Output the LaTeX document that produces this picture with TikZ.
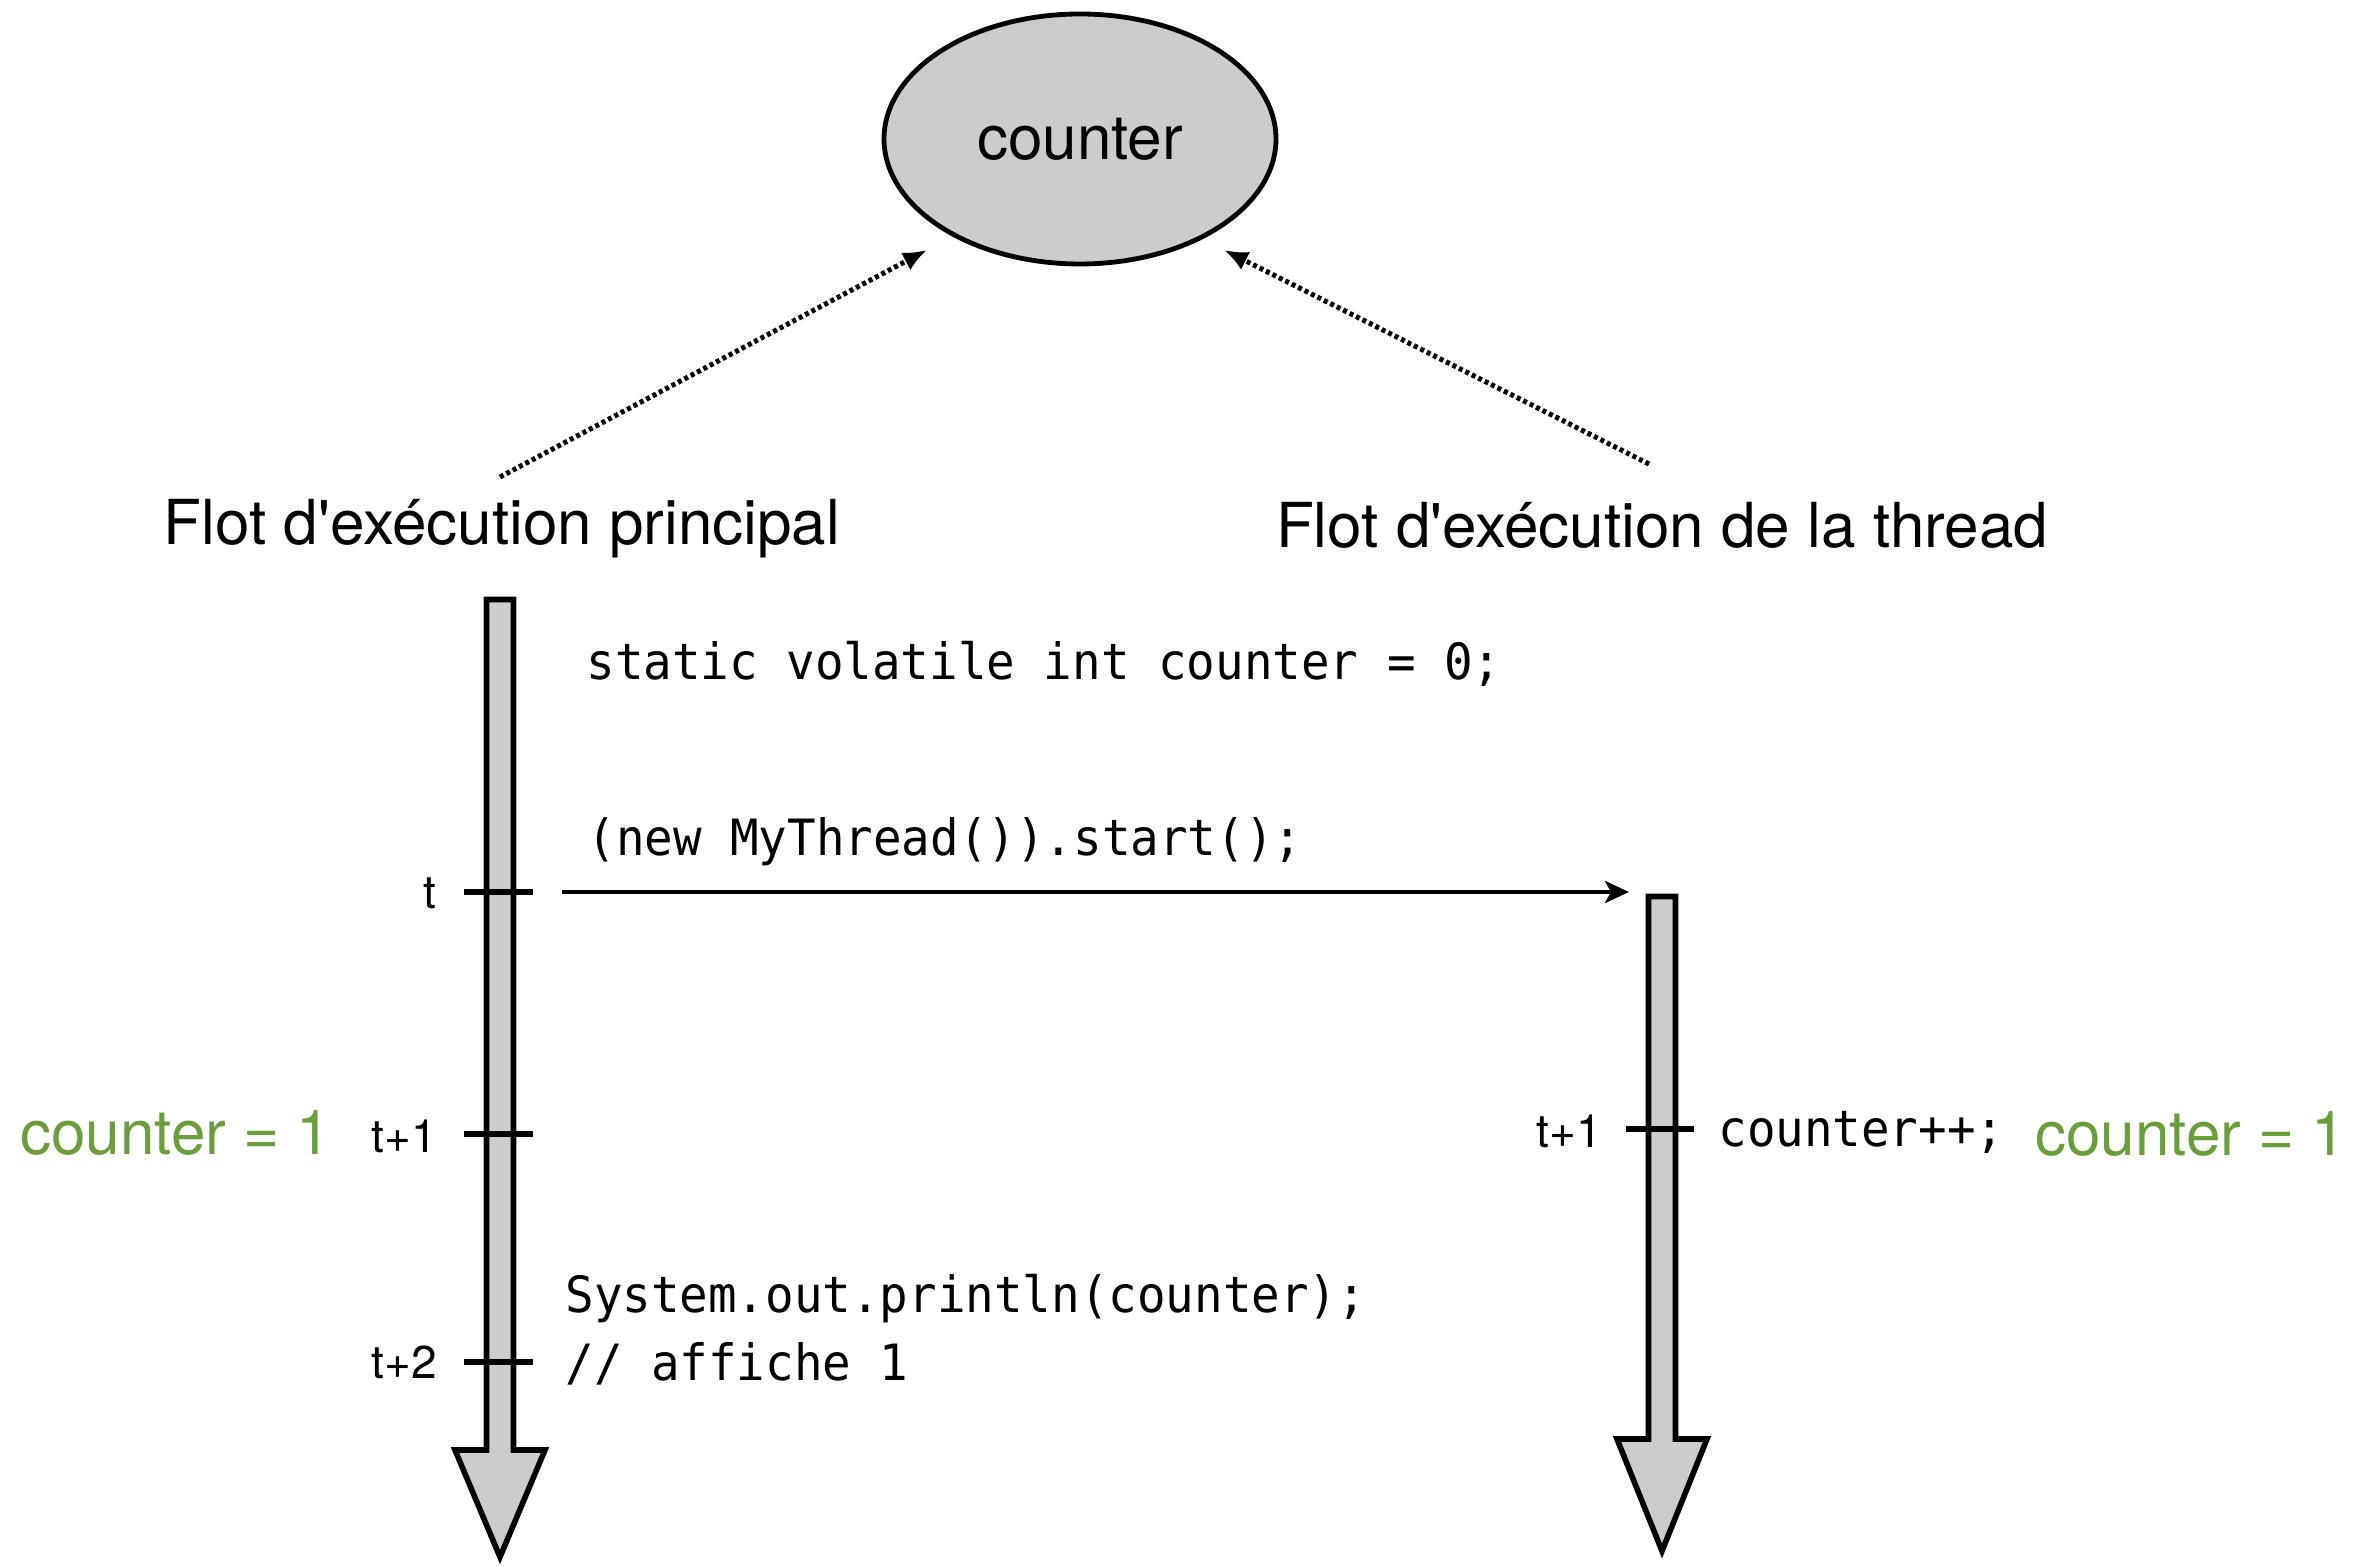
\documentclass[tikz,border=0pt]{standalone}
\usepackage{fontspec}
\usetikzlibrary{arrows.meta,shapes.geometric}
\newfontfamily\hv{TeX Gyre Heros}[Ligatures=TeXOff]
\newfontfamily\codefont{DejaVu Sans Mono}[FakeStretch=0.95]
\definecolor{flowgray}{HTML}{CCCCCC}
\definecolor{valgreen}{HTML}{6A9E3A}

\begin{document}
\begin{tikzpicture}[x=0.5pt,y=-0.5pt,
  lbl/.style={inner sep=0pt, anchor=base, font=\hv\fontsize{31}{36}\selectfont},
  tlbl/.style={inner sep=0pt, anchor=base east, font=\hv\fontsize{23}{28}\selectfont},
  code/.style={inner sep=0pt, anchor=base west, font=\codefont\fontsize{25}{29}\selectfont},
  val/.style={inner sep=0pt, anchor=base west, text=valgreen, font=\hv\fontsize{31}{36}\selectfont},
  flow/.style={draw=black, fill=flowgray, line width=2.8pt, line join=miter},
  tick/.style={line width=2.7pt},
  access/.style={line width=2.5pt, dash pattern=on 2pt off 1.6pt, -{Latex[length=12pt,width=10pt]}},
  call/.style={line width=2.4pt, -{Stealth[length=12pt,width=11pt,inset=3pt]}}
]
\useasboundingbox (0,0) rectangle (2376,1566);

% shared variable
\node[ellipse, draw, line width=2.4pt, fill=flowgray, minimum width=196pt,
      minimum height=125pt, inner sep=0pt, font=\hv\fontsize{31}{36}\selectfont]
      (counter) at (1080,139) {counter};

% flow titles
\node[lbl] (mainlbl) at (502,545) {Flot d'exécution principal};
\node[lbl] (threadlbl) at (1662,548) {Flot d'exécution de la thread};

% both flows access the variable
\coordinate (mainsrc) at (500,477);
\coordinate (mainhit) at (927,250);
\coordinate (threadsrc) at (1649,464);
\coordinate (threadhit) at (1224,250);
\draw[access] (mainsrc) -- (mainhit);
\draw[access] (threadsrc) -- (threadhit);

% main flow timeline
\draw[flow] (486.5,599.5) -- (513.5,599.5) -- (513.5,1450) -- (545,1450)
  -- (500,1557) -- (455,1450) -- (486.5,1450) -- cycle;
% thread flow timeline
\draw[flow] (1648.5,896.5) -- (1675.5,896.5) -- (1675.5,1439) -- (1707,1439)
  -- (1662,1551) -- (1617,1439) -- (1648.5,1439) -- cycle;

% time ticks
\draw[tick] (464,892) -- (533,892);
\draw[tick] (464,1134) -- (533,1134);
\draw[tick] (464,1362) -- (533,1362);
\draw[tick] (1626,1129) -- (1694,1129);

\node[tlbl] (t0) at (437,908) {t};
\node[tlbl] (t1) at (437,1152) {t+1};
\node[tlbl] (t2) at (437,1378) {t+2};
\node[tlbl] (tt1) at (1602,1147) {t+1};

% thread start
\coordinate (spawn) at (562,892);
\coordinate (threadstart) at (1629,892);
\draw[call] (spawn) -- (threadstart);

% code
\node[code] (decl) at (586,680) {static volatile int counter = 0;};
\node[code] (start) at (587,855) {(new MyThread()).start();};
\node[code] (print) at (565,1312) {System.out.println(counter);};
\node[code] (comment) at (565,1380) {// affiche 1};
\node[code] (incr) at (1718,1146) {counter++;};

% observed values
\node[val] (mainval) at (20,1154) {counter = 1};
\node[val] (threadval) at (2035,1155) {counter = 1};
\end{tikzpicture}
\end{document}
